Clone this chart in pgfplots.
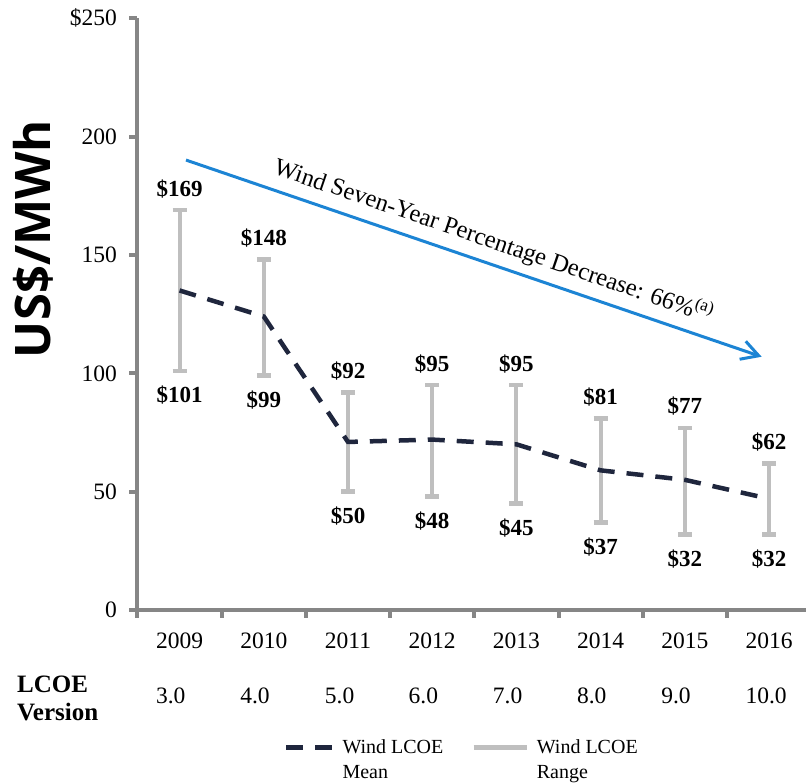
\documentclass[border=0pt]{standalone}
\usepackage{fontspec}
\setmainfont{Liberation Serif}
\newfontfamily\ylfont{Open Sans}
\usepackage{pgfplots}
\usepackage{pgfplotstable}
\pgfplotsset{compat=1.18}
\usetikzlibrary{arrows.meta}
\definecolor{axisgray}{RGB}{134,134,134}
\definecolor{rangegray}{RGB}{191,191,191}
\definecolor{meancolor}{RGB}{31,38,61}
\definecolor{arrowblue}{RGB}{28,132,212}

\pgfplotstableread{
x low high mean
0 101 169 135
1 99 148 124
2 50 92 71
3 48 95 72
4 45 95 70
5 37 81 59
6 32 77 55
7 32 62 47
}\lcoe

\begin{document}
\begin{tikzpicture}
\begin{axis}[
  at={(137.5pt,174pt)}, anchor=south west,
  scale only axis, width=669.4pt, height=591.7pt,
  xmin=-0.5, xmax=7.45, ymin=0, ymax=250,
  clip=false,
  axis lines=left,
  axis line style={-, draw=axisgray, line width=4pt},
  /pgf/number format/assume math mode=true,
  tick align=outside,
  major tick length=8pt, minor tick length=8pt,
  tick style={draw=axisgray, line width=4pt},
  major x tick style={draw=none},
  xtick={0,...,7},
  minor xtick={-0.5,0.5,...,6.5},
  xticklabels={{2009\\3.0},{2010\\4.0},{2011\\5.0},{2012\\6.0},{2013\\7.0},{2014\\8.0},{2015\\9.0},{2016\\10.0}},
  xticklabel style={align=left, font=\fontsize{23.5}{55}\selectfont, yshift=-11pt},
  ytick={0,50,100,150,200,250},
  yticklabels={0,50,100,150,200,\$250},
  yticklabel style={font=\fontsize{23.5}{28}\selectfont, xshift=-9pt},
  ylabel={US\$/MWh},
  ylabel style={font=\ylfont\bfseries\fontsize{49}{55}\selectfont, at={(axis description cs:-0.156,0.627)}, anchor=center, rotate=0},
  legend style={at={(axis description cs:0.2189,-0.2096)}, anchor=north west, draw=none, fill=none,
    inner sep=0pt, outer sep=0pt, column sep=0pt, legend columns=2,
    font=\fontsize{20}{25}\selectfont,
    cells={anchor=base west, inner sep=0pt},
    /tikz/every odd column/.append style={column sep=6pt},
    /tikz/every even column/.append style={column sep=26pt}},
]
\addlegendimage{legend image code/.code={\draw[meancolor, line width=4.5pt, dash pattern=on 17pt off 12pt] (0pt,6pt) -- (46pt,6pt);}}
\addlegendentry{\begin{tabular}[t]{@{}l@{}}Wind LCOE\\Mean\end{tabular}}
\addlegendimage{legend image code/.code={\draw[rangegray, line width=4.5pt] (0pt,6pt) -- (53pt,6pt);}}
\addlegendentry{\begin{tabular}[t]{@{}l@{}}Wind LCOE\\Range\end{tabular}}

% range bars
\addplot[forget plot, draw=none, mark=none,
  error bars/.cd, y dir=both, y explicit, error mark=|,
  error bar style={draw=rangegray, line width=4pt},
  error mark options={draw=rangegray, line width=4.5pt, mark size=7pt}]
  table[x=x, y=low, y error plus expr=\thisrow{high}-\thisrow{low}, y error minus expr=0] {\lcoe};
% low labels
\addplot[forget plot, draw=none, mark=none,
  nodes near coords={\$\pgfmathprintnumber{\pgfplotspointmeta}},
  every node near coord/.append style={font=\fontsize{23}{27}\selectfont\bfseries, anchor=base, yshift=-32pt, inner sep=0pt, text=black}]
  table[x=x, y=low] {\lcoe};
% high labels
\addplot[forget plot, draw=none, mark=none,
  nodes near coords={\$\pgfmathprintnumber{\pgfplotspointmeta}},
  every node near coord/.append style={font=\fontsize{23}{27}\selectfont\bfseries, anchor=base, yshift=14pt, inner sep=0pt, text=black}]
  table[x=x, y=high] {\lcoe};
% mean
\addplot[forget plot, meancolor, line width=4.5pt, dash pattern=on 17pt off 12pt, mark=none]
  table[x=x, y=mean] {\lcoe};

\draw[arrowblue, line width=3pt, -{Straight Barb[length=17pt, width=19pt, line width=3pt]}]
  (axis cs:0.076,190.1) -- (axis cs:6.913,107.0);
\node[anchor=base, rotate=-18.86, font=\fontsize{24.5}{28}\selectfont, inner sep=0pt]
  at (axis cs:3.70,152.8) {Wind Seven-Year Percentage Decrease: 66\%\textsuperscript{(a)}};

\node[anchor=base west, inner sep=0pt, font=\fontsize{25}{28}\selectfont\bfseries]
  at (axis description cs:-0.180,-0.1386) {\begin{tabular}[t]{@{}l@{}}LCOE\\Version\end{tabular}};
\end{axis}
\pgfresetboundingbox
\useasboundingbox (0,0) rectangle (806pt,784pt);
\end{tikzpicture}
\end{document}
